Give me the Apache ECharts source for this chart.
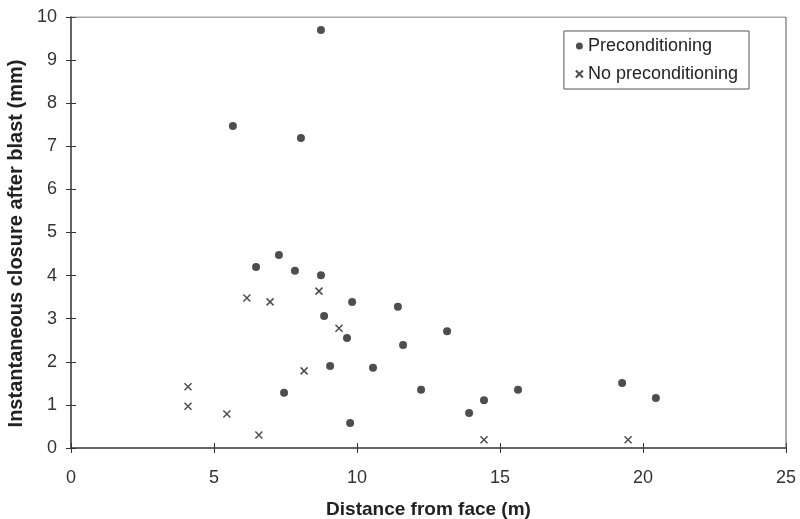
<!DOCTYPE html>
<html>
<head>
<meta charset="utf-8">
<script src="https://cdn.jsdelivr.net/npm/echarts@6/dist/echarts.min.js"></script>
<style>
  html, body { margin: 0; padding: 0; background: #fff; }
  #chart { width: 800px; height: 519px; }
</style>
</head>
<body>
<div id="chart"></div>
<script>
// Preconditioning: [distance (m), closure (mm)]
const precondPoints = [
  [8.74, 9.70], [5.66, 7.47], [8.04, 7.19], [7.27, 4.48], [6.47, 4.20],
  [7.83, 4.11], [8.74, 4.01], [9.83, 3.39], [8.85, 3.06], [9.65, 2.55],
  [9.06, 1.90], [10.56, 1.86], [7.45, 1.28], [9.76, 0.58], [11.43, 3.28],
  [13.15, 2.71], [11.61, 2.39], [12.24, 1.35], [13.92, 0.81], [14.44, 1.11],
  [15.63, 1.35], [19.27, 1.51], [20.45, 1.16]
]
// No preconditioning
const noPrecondPoints = [
  [6.15, 3.48], [6.96, 3.39], [8.67, 3.64], [9.37, 2.78], [8.15, 1.79],
  [4.09, 1.42], [4.09, 0.97], [5.45, 0.79], [6.57, 0.30], [14.44, 0.19],
  [19.48, 0.19]
]
const seriesNames = ['Preconditioning', 'No preconditioning']

// X-shaped marker drawn as a stroke
const crossPath = 'path://M0,0L10,10M10,0L0,10'

// extra axes only to draw the ticks that cross the axis line
const tickOnly = {
  axisLine: { show: false },
  axisLabel: { show: false },
  splitLine: { show: false },
  axisTick: { inside: true, length: 5, lineStyle: { color: '#333' } }
}

let myChart = echarts.init(document.getElementById('chart'))
myChart.setOption({
  animation: false,
  textStyle: { fontFamily: 'Liberation Sans, Arial, sans-serif' },
  grid: { left: 71, right: 14, top: 17, bottom: 71, outerBoundsMode: 'none' },
  legend: {
    orient: 'vertical',
    right: 51,
    top: 31,
    padding: [6, 11, 6, 11],
    itemGap: 10,
    itemWidth: 7,
    itemHeight: 7,
    borderColor: '#555',
    borderWidth: 1,
    textStyle: { fontSize: 18, color: '#222' },
    data: [
      { name: seriesNames[0], icon: 'circle' },
      { name: seriesNames[1], icon: crossPath }
    ]
  },
  xAxis: [
    {
      type: 'value',
      min: 0,
      max: 25,
      interval: 5,
      name: 'Distance from face (m)',
      nameLocation: 'middle',
      nameGap: 52,
      nameTextStyle: { fontSize: 19, fontWeight: 'bold', color: '#222' },
      axisLine: { lineStyle: { color: '#333', width: 1.5 } },
      axisTick: { length: 5, lineStyle: { color: '#333' } },
      axisLabel: { fontSize: 18, color: '#333', margin: 21 },
      splitLine: { show: false }
    },
    Object.assign({ type: 'value', min: 0, max: 25, interval: 5, position: 'bottom' }, tickOnly)
  ],
  yAxis: [
    {
      type: 'value',
      min: 0,
      max: 10,
      interval: 1,
      name: 'Instantaneous closure after blast (mm)',
      nameLocation: 'middle',
      nameGap: 44,
      nameTextStyle: { fontSize: 20, fontWeight: 'bold', color: '#222', padding: [0, 22, 0, 0] },
      axisLine: { lineStyle: { color: '#333', width: 1.5 } },
      axisTick: { length: 5, lineStyle: { color: '#333' } },
      axisLabel: { fontSize: 18, color: '#333', margin: 14 },
      splitLine: { show: false }
    },
    Object.assign({ type: 'value', min: 0, max: 10, interval: 1, position: 'left' }, tickOnly)
  ],
  series: [
    {
      name: seriesNames[0],
      type: 'scatter',
      symbol: 'circle',
      symbolSize: 8,
      itemStyle: { color: '#222' },
      data: precondPoints
    },
    {
      name: seriesNames[1],
      type: 'scatter',
      symbol: crossPath,
      symbolSize: 7,
      itemStyle: { color: 'transparent', borderColor: '#222', borderWidth: 1.5 },
      data: noPrecondPoints
    },
    {
      // frame on top and right side of the plot
      type: 'line',
      silent: true,
      symbol: 'none',
      lineStyle: { color: '#555', width: 1 },
      data: [[0, 10], [25, 10], [25, 0]]
    }
  ]
})
</script>
</body>
</html>
